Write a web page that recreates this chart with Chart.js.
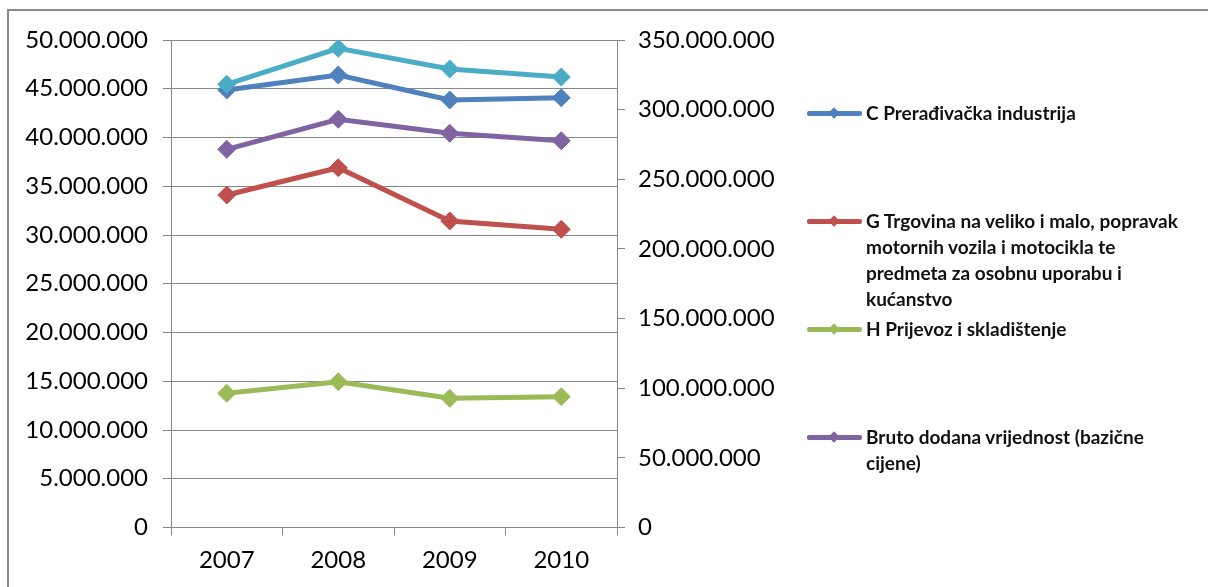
<!DOCTYPE html>
<html>
<head>
<meta charset="utf-8">
<script src="https://cdn.jsdelivr.net/npm/chart.js@4/dist/chart.umd.min.js"></script>
<style>
  html,body{margin:0;padding:0;background:#fff;}
  #wrap{position:relative;width:1208px;height:587px;overflow:hidden;background:#fff;}
  #frame{position:absolute;left:7px;top:9px;width:1400px;height:800px;border-left:2px solid #8a8a8a;border-top:2px solid #8a8a8a;}
  #chartBox{position:absolute;left:0;top:0;width:1208px;height:587px;}
  #legend{position:absolute;left:807px;top:100px;width:400px;font-family:Lato,"Open Sans",sans-serif;font-size:19px;font-weight:700;line-height:26px;color:#111;}
  .entry{display:flex;align-items:flex-start;height:108px;}
  .swatch{position:relative;width:55px;height:26px;flex:0 0 55px;margin-right:4px;}
  .swatch .ln{position:absolute;left:0;right:0;top:11px;height:5px;border-radius:2px;}
  .swatch .dm{position:absolute;left:23px;top:9px;width:8px;height:8px;transform:rotate(45deg);}
  .txt{width:345px;white-space:pre-line;}
</style>
</head>
<body>
<div id="wrap">
  <div id="frame"></div>
  <div id="chartBox"><canvas id="c"></canvas></div>
  <div id="legend"></div>
</div>
<script>
// ---- data ----
const years = ['2007', '2008', '2009', '2010'];
const seriesNames = [
  'C Prerađivačka industrija',
  'G Trgovina na veliko i malo, popravak\nmotornih vozila i motocikla te\npredmeta za osobnu uporabu i\nkućanstvo',
  'H Prijevoz i skladištenje',
  'Bruto dodana vrijednost (bazične\ncijene)',
  'Bruto domaći proizvod'
];
const prerađivačka = [44870000, 46410000, 43850000, 44080000];
const trgovina     = [34100000, 36900000, 31440000, 30580000];
const prijevoz     = [13760000, 14950000, 13250000, 13420000];
const bdv          = [271500000, 293100000, 283000000, 277700000];
const bdp          = [318200000, 344000000, 329200000, 323400000];
const leftTicks  = {min: 0, max: 50000000, step: 5000000};
const rightTicks = {min: 0, max: 350000000, step: 50000000};
const colors = ['#4F81BD', '#C0504D', '#9BBB59', '#8064A2', '#4BACC6'];
const axisOf = ['y', 'y', 'y', 'y2', 'y2'];
const inLegend = [true, true, true, true, false];
const values = [prerađivačka, trgovina, prijevoz, bdv, bdp];

function fmt(v){ return String(Math.round(v)).replace(/\B(?=(\d{3})+(?!\d))/g, '.'); }

const drawOrder = [1, 2, 3, 4, 0];
const datasets = values.map((vals, i) => ({
  label: seriesNames[i].replace(/\n/g, ' '),
  data: vals,
  yAxisID: axisOf[i],
  borderColor: colors[i],
  backgroundColor: colors[i],
  pointBackgroundColor: colors[i],
  pointBorderColor: colors[i],
  borderWidth: 5,
  pointStyle: 'rectRot',
  pointRadius: 9,
  pointHoverRadius: 9,
  pointBorderWidth: 1,
  tension: 0,
  order: drawOrder[i]
}));

const tickFont = {family: 'Lato, "Open Sans", sans-serif', size: 24};
const gridCol = '#868686';

new Chart(document.getElementById('c'), {
  type: 'line',
  data: {labels: years, datasets},
  options: {
    responsive: true,
    maintainAspectRatio: false,
    animation: false,
    layout: {padding: {top: 40, right: 421, left: 0, bottom: 0}},
    plugins: {legend: {display: false}, tooltip: {enabled: false}},
    scales: {
      x: {
        type: 'category',
        offset: true,
        grid: {offset: true, drawOnChartArea: false, drawTicks: true, tickLength: 8, color: gridCol},
        border: {color: gridCol, width: 1},
        ticks: {color: '#000', font: tickFont, padding: 10, maxRotation: 0},
        afterFit: s => { s.height = 59.5; }
      },
      y: {
        position: 'left',
        min: leftTicks.min, max: leftTicks.max,
        grid: {color: gridCol, lineWidth: 1, tickLength: 8},
        border: {color: gridCol, width: 1},
        ticks: {stepSize: leftTicks.step, color: '#000', font: tickFont, padding: 15, callback: v => fmt(v)},
        afterFit: s => { s.width = 171; }
      },
      y2: {
        position: 'right',
        min: rightTicks.min, max: rightTicks.max,
        grid: {drawOnChartArea: false, tickLength: 8, color: gridCol},
        border: {color: gridCol, width: 1},
        ticks: {stepSize: rightTicks.step, color: '#000', font: tickFont, padding: 13, callback: v => fmt(v)},
        afterFit: s => { s.width = 170; }
      }
    }
  }
});

// ---- legend (HTML, real text) ----
const lg = document.getElementById('legend');
seriesNames.forEach((name, i) => {
  if (!inLegend[i]) return;
  const e = document.createElement('div'); e.className = 'entry';
  const sw = document.createElement('div'); sw.className = 'swatch';
  const ln = document.createElement('div'); ln.className = 'ln'; ln.style.background = colors[i];
  const dm = document.createElement('div'); dm.className = 'dm'; dm.style.background = colors[i];
  sw.appendChild(ln); sw.appendChild(dm);
  const t = document.createElement('div'); t.className = 'txt'; t.textContent = name;
  e.appendChild(sw); e.appendChild(t);
  lg.appendChild(e);
});
</script>
</body>
</html>
